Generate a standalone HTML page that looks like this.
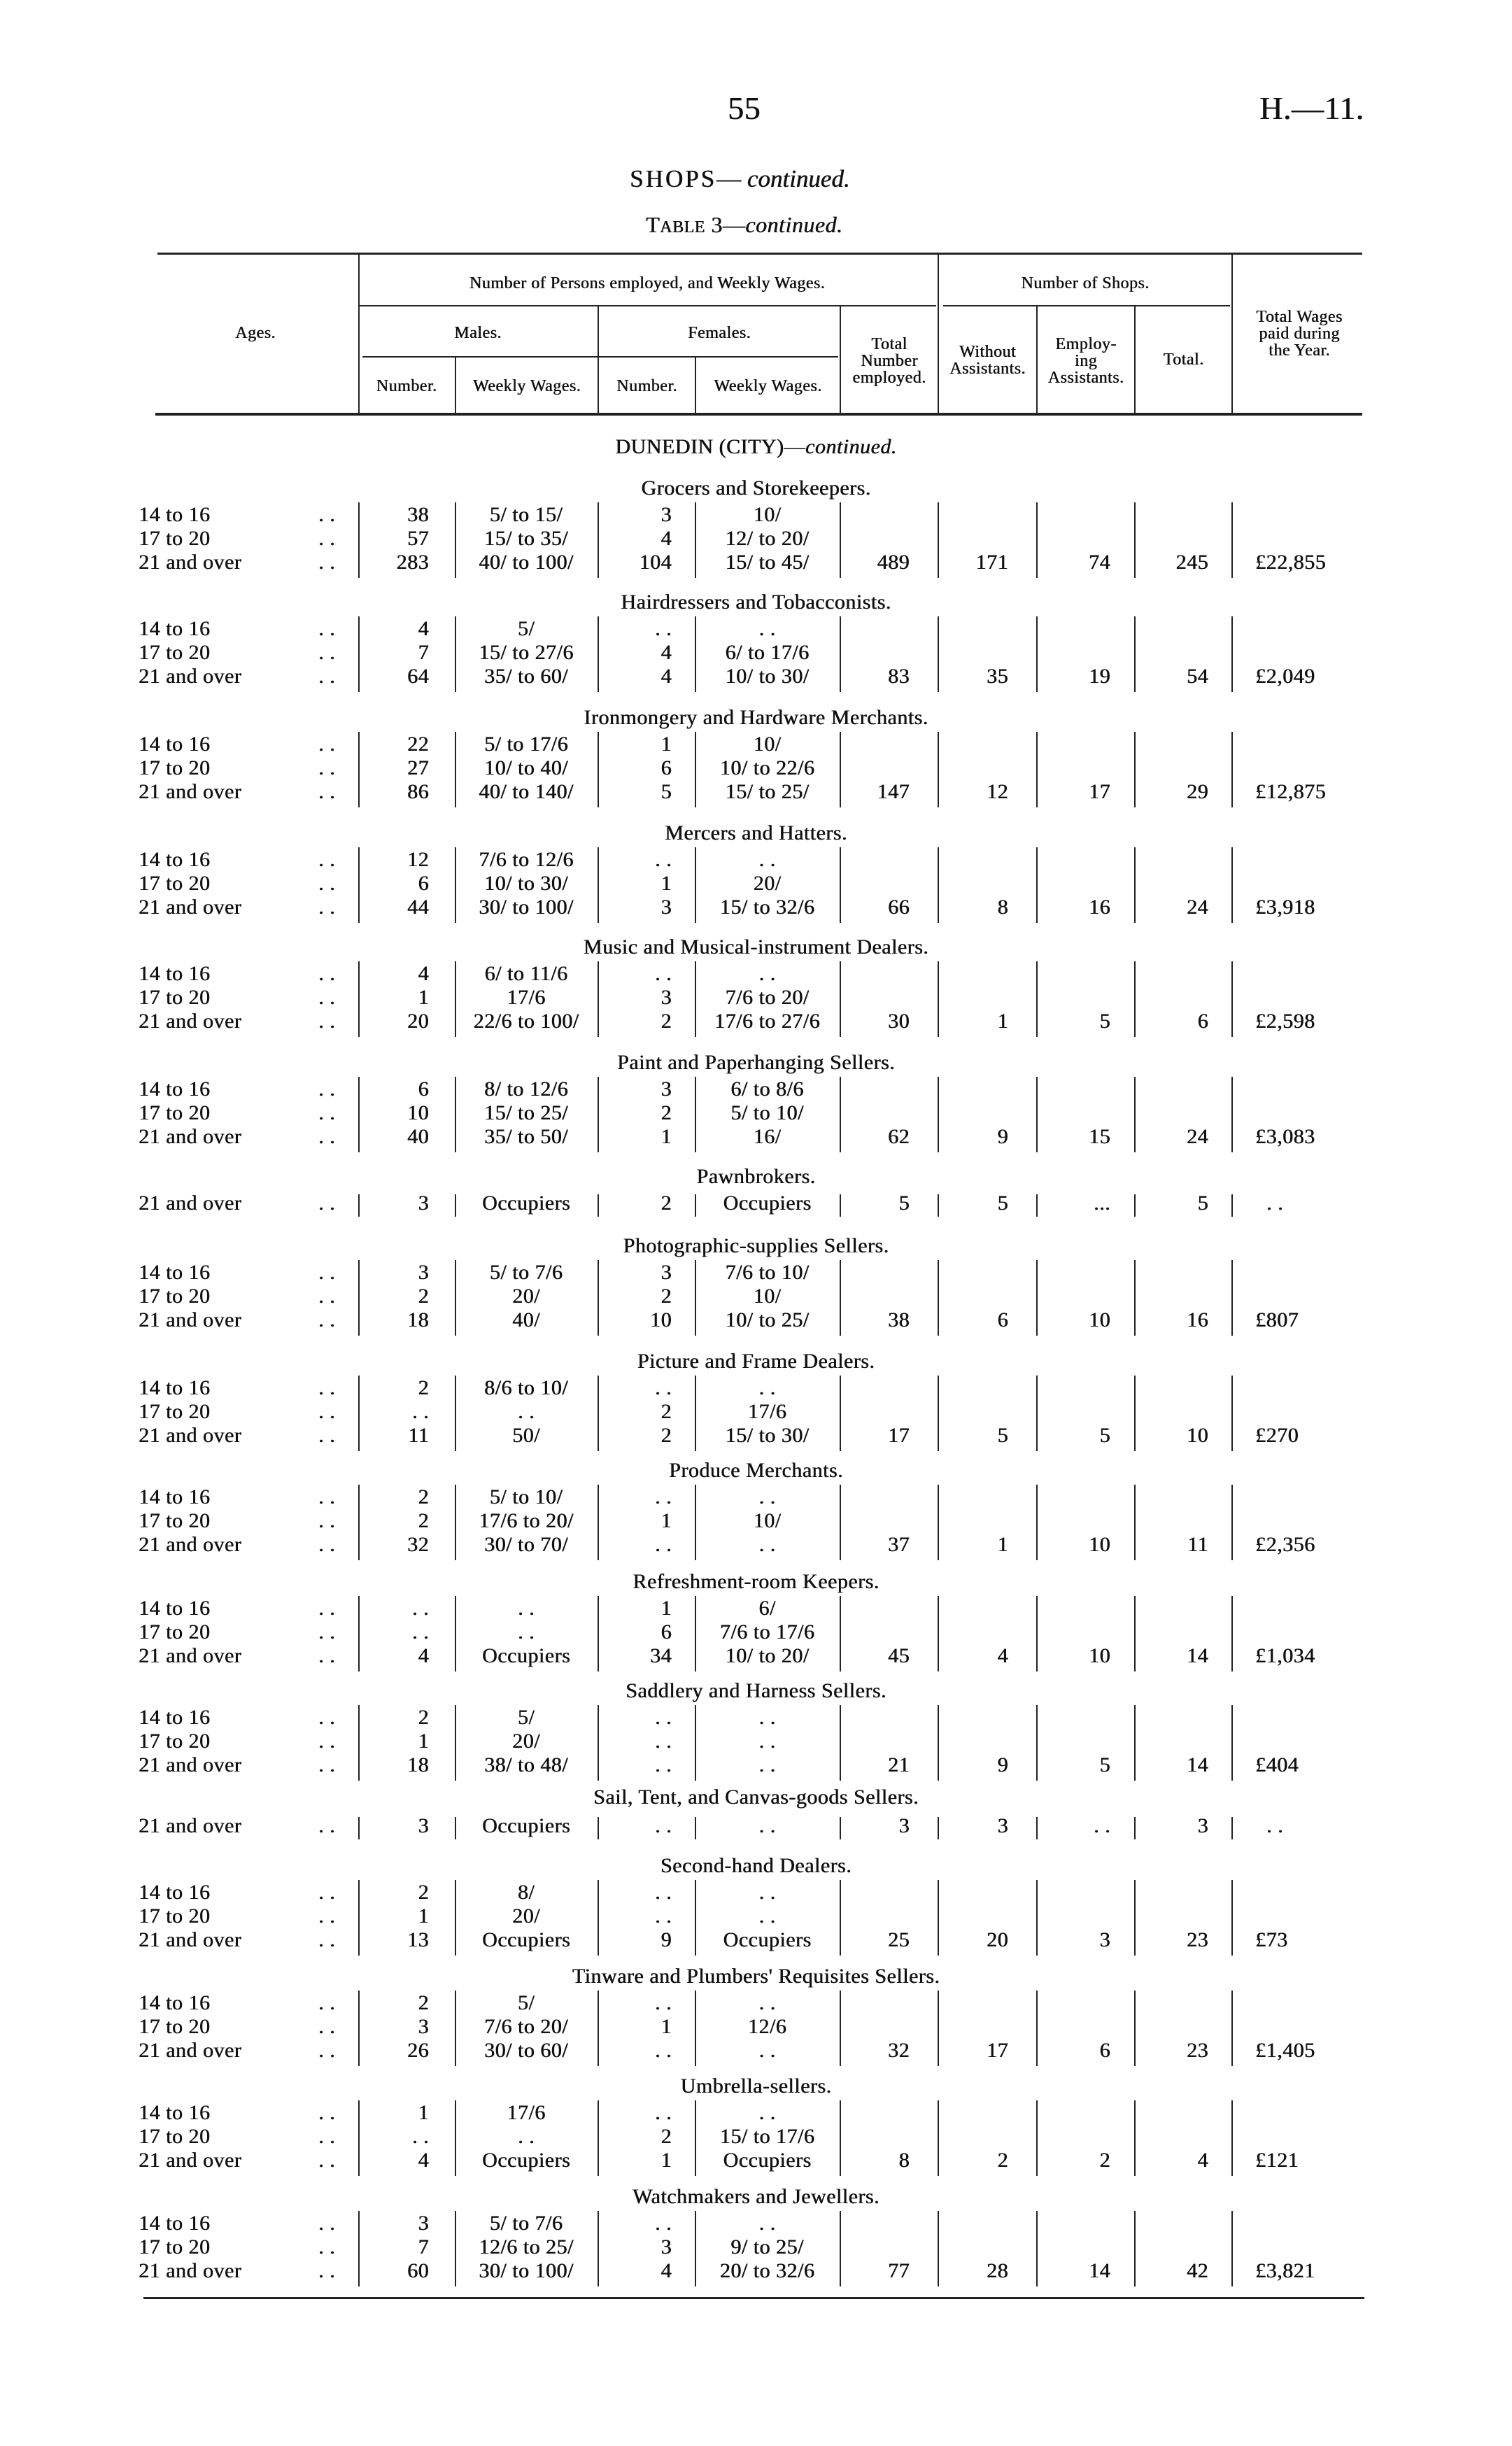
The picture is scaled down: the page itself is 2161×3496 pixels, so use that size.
<!DOCTYPE html>
<html><head><meta charset="utf-8"><style>
body{margin:0;background:#fff}
#p{position:relative;width:2161px;height:3496px;overflow:hidden;font-family:"Liberation Serif",serif;color:#111;font-size:30px;letter-spacing:0.5px;text-shadow:0.6px 0 0 #111}
.r{position:absolute;left:0;width:2161px;height:34px;line-height:34px}
.r span{position:absolute;top:0;white-space:nowrap}
.a{left:198px}.d{left:455px}.mn{right:1548px}.mw{left:652px;width:200px;text-align:center}.fn{right:1201px}.fw{left:995px;width:203px;text-align:center}.t{right:861px}.wo{right:720px}.em{right:574px}.ts{right:434px}.tw{left:1794px}
.h{position:absolute;left:0;width:2161px;text-align:center;height:36px;line-height:36px}
.v{position:absolute;left:0;width:2161px;background-image:linear-gradient(#222,#222),linear-gradient(#222,#222),linear-gradient(#222,#222),linear-gradient(#222,#222),linear-gradient(#222,#222),linear-gradient(#222,#222),linear-gradient(#222,#222),linear-gradient(#222,#222),linear-gradient(#222,#222);background-repeat:no-repeat;background-size:2px 100%;background-position:512px 0,650px 0,854px 0,993px 0,1200px 0,1340px 0,1481px 0,1621px 0,1760px 0}
.ln{position:absolute;background:#222}
.x{position:absolute;text-align:center;font-size:24px;line-height:24px;white-space:nowrap}
</style></head><body><div id="p">
<div style="position:absolute;left:1040px;top:128px;font-size:46px">55</div>
<div style="position:absolute;left:1800px;top:128px;font-size:46px">H.—11.</div>
<div style="position:absolute;left:900px;top:236px;font-size:35px;letter-spacing:3px">SHOPS<span style="letter-spacing:0">— <i>continued.</i></span></div>
<div style="position:absolute;left:923px;top:303px;font-size:32px">T<span style="font-size:24px">ABLE</span> 3—<i>continued.</i></div>

<div class="ln" style="left:225px;top:361px;width:1722px;height:3px"></div>
<div class="ln" style="left:222px;top:590px;width:1725px;height:4px"></div>
<div class="ln" style="left:512px;top:362px;width:2px;height:230px"></div>
<div class="ln" style="left:1340px;top:362px;width:2px;height:230px"></div>
<div class="ln" style="left:1760px;top:362px;width:2px;height:230px"></div>
<div class="ln" style="left:512px;top:436px;width:826px;height:2px"></div>
<div class="ln" style="left:1348px;top:436px;width:410px;height:2px"></div>
<div class="ln" style="left:518px;top:509px;width:680px;height:2px"></div>
<div class="ln" style="left:1200px;top:437px;width:2px;height:155px"></div>
<div class="ln" style="left:854px;top:437px;width:2px;height:155px"></div>
<div class="ln" style="left:1481px;top:437px;width:2px;height:155px"></div>
<div class="ln" style="left:1621px;top:437px;width:2px;height:155px"></div>
<div class="ln" style="left:650px;top:510px;width:2px;height:82px"></div>
<div class="ln" style="left:993px;top:510px;width:2px;height:82px"></div>
<div class="x" style="left:300px;width:130px;top:464px">Ages.</div>
<div class="x" style="left:512px;width:826px;top:393px">Number of Persons employed, and Weekly Wages.</div>
<div class="x" style="left:1342px;width:418px;top:393px">Number of Shops.</div>
<div class="x" style="left:512px;width:342px;top:464px">Males.</div>
<div class="x" style="left:856px;width:344px;top:464px">Females.</div>
<div class="x" style="left:512px;width:138px;top:540px">Number.</div>
<div class="x" style="left:652px;width:202px;top:540px">Weekly Wages.</div>
<div class="x" style="left:856px;width:137px;top:540px">Number.</div>
<div class="x" style="left:995px;width:205px;top:540px">Weekly Wages.</div>
<div class="x" style="left:1202px;width:138px;top:480px">Total<br>Number<br>employed.</div>
<div class="x" style="left:1342px;width:139px;top:491px">Without<br>Assistants.</div>
<div class="x" style="left:1483px;width:138px;top:480px">Employ-<br>ing<br>Assistants.</div>
<div class="x" style="left:1623px;width:137px;top:502px">Total.</div>
<div class="x" style="left:1762px;width:190px;top:441px">Total Wages<br>paid during<br>the Year.</div>

<div class="h" style="top:621px">DUNEDIN (CITY)—<i>continued.</i></div>

<div class="h" style="top:680px">Grocers and Storekeepers.</div>
<div class="v" style="top:718px;height:108px"></div>
<div class="r" style="top:719px"><span class="a">14 to 16</span><span class="d">. .</span><span class="mn">38</span><span class="mw">5/ to 15/</span><span class="fn">3</span><span class="fw">10/</span></div>
<div class="r" style="top:753px"><span class="a">17 to 20</span><span class="d">. .</span><span class="mn">57</span><span class="mw">15/ to 35/</span><span class="fn">4</span><span class="fw">12/ to 20/</span></div>
<div class="r" style="top:787px"><span class="a">21 and over</span><span class="d">. .</span><span class="mn">283</span><span class="mw">40/ to 100/</span><span class="fn">104</span><span class="fw">15/ to 45/</span><span class="t">489</span><span class="wo">171</span><span class="em">74</span><span class="ts">245</span><span class="tw">£22,855</span></div>

<div class="h" style="top:843px">Hairdressers and Tobacconists.</div>
<div class="v" style="top:881px;height:108px"></div>
<div class="r" style="top:882px"><span class="a">14 to 16</span><span class="d">. .</span><span class="mn">4</span><span class="mw">5/</span><span class="fn">. .</span><span class="fw">. .</span></div>
<div class="r" style="top:916px"><span class="a">17 to 20</span><span class="d">. .</span><span class="mn">7</span><span class="mw">15/ to 27/6</span><span class="fn">4</span><span class="fw">6/ to 17/6</span></div>
<div class="r" style="top:950px"><span class="a">21 and over</span><span class="d">. .</span><span class="mn">64</span><span class="mw">35/ to 60/</span><span class="fn">4</span><span class="fw">10/ to 30/</span><span class="t">83</span><span class="wo">35</span><span class="em">19</span><span class="ts">54</span><span class="tw">£2,049</span></div>

<div class="h" style="top:1008px">Ironmongery and Hardware Merchants.</div>
<div class="v" style="top:1046px;height:108px"></div>
<div class="r" style="top:1047px"><span class="a">14 to 16</span><span class="d">. .</span><span class="mn">22</span><span class="mw">5/ to 17/6</span><span class="fn">1</span><span class="fw">10/</span></div>
<div class="r" style="top:1081px"><span class="a">17 to 20</span><span class="d">. .</span><span class="mn">27</span><span class="mw">10/ to 40/</span><span class="fn">6</span><span class="fw">10/ to 22/6</span></div>
<div class="r" style="top:1115px"><span class="a">21 and over</span><span class="d">. .</span><span class="mn">86</span><span class="mw">40/ to 140/</span><span class="fn">5</span><span class="fw">15/ to 25/</span><span class="t">147</span><span class="wo">12</span><span class="em">17</span><span class="ts">29</span><span class="tw">£12,875</span></div>

<div class="h" style="top:1173px">Mercers and Hatters.</div>
<div class="v" style="top:1211px;height:108px"></div>
<div class="r" style="top:1212px"><span class="a">14 to 16</span><span class="d">. .</span><span class="mn">12</span><span class="mw">7/6 to 12/6</span><span class="fn">. .</span><span class="fw">. .</span></div>
<div class="r" style="top:1246px"><span class="a">17 to 20</span><span class="d">. .</span><span class="mn">6</span><span class="mw">10/ to 30/</span><span class="fn">1</span><span class="fw">20/</span></div>
<div class="r" style="top:1280px"><span class="a">21 and over</span><span class="d">. .</span><span class="mn">44</span><span class="mw">30/ to 100/</span><span class="fn">3</span><span class="fw">15/ to 32/6</span><span class="t">66</span><span class="wo">8</span><span class="em">16</span><span class="ts">24</span><span class="tw">£3,918</span></div>

<div class="h" style="top:1336px">Music and Musical-instrument Dealers.</div>
<div class="v" style="top:1374px;height:108px"></div>
<div class="r" style="top:1375px"><span class="a">14 to 16</span><span class="d">. .</span><span class="mn">4</span><span class="mw">6/ to 11/6</span><span class="fn">. .</span><span class="fw">. .</span></div>
<div class="r" style="top:1409px"><span class="a">17 to 20</span><span class="d">. .</span><span class="mn">1</span><span class="mw">17/6</span><span class="fn">3</span><span class="fw">7/6 to 20/</span></div>
<div class="r" style="top:1443px"><span class="a">21 and over</span><span class="d">. .</span><span class="mn">20</span><span class="mw">22/6 to 100/</span><span class="fn">2</span><span class="fw">17/6 to 27/6</span><span class="t">30</span><span class="wo">1</span><span class="em">5</span><span class="ts">6</span><span class="tw">£2,598</span></div>

<div class="h" style="top:1501px">Paint and Paperhanging Sellers.</div>
<div class="v" style="top:1539px;height:108px"></div>
<div class="r" style="top:1540px"><span class="a">14 to 16</span><span class="d">. .</span><span class="mn">6</span><span class="mw">8/ to 12/6</span><span class="fn">3</span><span class="fw">6/ to 8/6</span></div>
<div class="r" style="top:1574px"><span class="a">17 to 20</span><span class="d">. .</span><span class="mn">10</span><span class="mw">15/ to 25/</span><span class="fn">2</span><span class="fw">5/ to 10/</span></div>
<div class="r" style="top:1608px"><span class="a">21 and over</span><span class="d">. .</span><span class="mn">40</span><span class="mw">35/ to 50/</span><span class="fn">1</span><span class="fw">16/</span><span class="t">62</span><span class="wo">9</span><span class="em">15</span><span class="ts">24</span><span class="tw">£3,083</span></div>

<div class="h" style="top:1664px">Pawnbrokers.</div>
<div class="v" style="top:1707px;height:32px"></div>
<div class="r" style="top:1703px"><span class="a">21 and over</span><span class="d">. .</span><span class="mn">3</span><span class="mw">Occupiers</span><span class="fn">2</span><span class="fw">Occupiers</span><span class="t">5</span><span class="wo">5</span><span class="em">...</span><span class="ts">5</span><span class="tw">&nbsp;&nbsp;. .</span></div>

<div class="h" style="top:1763px">Photographic-supplies Sellers.</div>
<div class="v" style="top:1801px;height:108px"></div>
<div class="r" style="top:1802px"><span class="a">14 to 16</span><span class="d">. .</span><span class="mn">3</span><span class="mw">5/ to 7/6</span><span class="fn">3</span><span class="fw">7/6 to 10/</span></div>
<div class="r" style="top:1836px"><span class="a">17 to 20</span><span class="d">. .</span><span class="mn">2</span><span class="mw">20/</span><span class="fn">2</span><span class="fw">10/</span></div>
<div class="r" style="top:1870px"><span class="a">21 and over</span><span class="d">. .</span><span class="mn">18</span><span class="mw">40/</span><span class="fn">10</span><span class="fw">10/ to 25/</span><span class="t">38</span><span class="wo">6</span><span class="em">10</span><span class="ts">16</span><span class="tw">£807</span></div>

<div class="h" style="top:1928px">Picture and Frame Dealers.</div>
<div class="v" style="top:1966px;height:108px"></div>
<div class="r" style="top:1967px"><span class="a">14 to 16</span><span class="d">. .</span><span class="mn">2</span><span class="mw">8/6 to 10/</span><span class="fn">. .</span><span class="fw">. .</span></div>
<div class="r" style="top:2001px"><span class="a">17 to 20</span><span class="d">. .</span><span class="mn">. .</span><span class="mw">. .</span><span class="fn">2</span><span class="fw">17/6</span></div>
<div class="r" style="top:2035px"><span class="a">21 and over</span><span class="d">. .</span><span class="mn">11</span><span class="mw">50/</span><span class="fn">2</span><span class="fw">15/ to 30/</span><span class="t">17</span><span class="wo">5</span><span class="em">5</span><span class="ts">10</span><span class="tw">£270</span></div>

<div class="h" style="top:2084px">Produce Merchants.</div>
<div class="v" style="top:2122px;height:108px"></div>
<div class="r" style="top:2123px"><span class="a">14 to 16</span><span class="d">. .</span><span class="mn">2</span><span class="mw">5/ to 10/</span><span class="fn">. .</span><span class="fw">. .</span></div>
<div class="r" style="top:2157px"><span class="a">17 to 20</span><span class="d">. .</span><span class="mn">2</span><span class="mw">17/6 to 20/</span><span class="fn">1</span><span class="fw">10/</span></div>
<div class="r" style="top:2191px"><span class="a">21 and over</span><span class="d">. .</span><span class="mn">32</span><span class="mw">30/ to 70/</span><span class="fn">. .</span><span class="fw">. .</span><span class="t">37</span><span class="wo">1</span><span class="em">10</span><span class="ts">11</span><span class="tw">£2,356</span></div>

<div class="h" style="top:2243px">Refreshment-room Keepers.</div>
<div class="v" style="top:2281px;height:108px"></div>
<div class="r" style="top:2282px"><span class="a">14 to 16</span><span class="d">. .</span><span class="mn">. .</span><span class="mw">. .</span><span class="fn">1</span><span class="fw">6/</span></div>
<div class="r" style="top:2316px"><span class="a">17 to 20</span><span class="d">. .</span><span class="mn">. .</span><span class="mw">. .</span><span class="fn">6</span><span class="fw">7/6 to 17/6</span></div>
<div class="r" style="top:2350px"><span class="a">21 and over</span><span class="d">. .</span><span class="mn">4</span><span class="mw">Occupiers</span><span class="fn">34</span><span class="fw">10/ to 20/</span><span class="t">45</span><span class="wo">4</span><span class="em">10</span><span class="ts">14</span><span class="tw">£1,034</span></div>

<div class="h" style="top:2399px">Saddlery and Harness Sellers.</div>
<div class="v" style="top:2437px;height:108px"></div>
<div class="r" style="top:2438px"><span class="a">14 to 16</span><span class="d">. .</span><span class="mn">2</span><span class="mw">5/</span><span class="fn">. .</span><span class="fw">. .</span></div>
<div class="r" style="top:2472px"><span class="a">17 to 20</span><span class="d">. .</span><span class="mn">1</span><span class="mw">20/</span><span class="fn">. .</span><span class="fw">. .</span></div>
<div class="r" style="top:2506px"><span class="a">21 and over</span><span class="d">. .</span><span class="mn">18</span><span class="mw">38/ to 48/</span><span class="fn">. .</span><span class="fw">. .</span><span class="t">21</span><span class="wo">9</span><span class="em">5</span><span class="ts">14</span><span class="tw">£404</span></div>

<div class="h" style="top:2551px">Sail, Tent, and Canvas-goods Sellers.</div>
<div class="v" style="top:2597px;height:32px"></div>
<div class="r" style="top:2593px"><span class="a">21 and over</span><span class="d">. .</span><span class="mn">3</span><span class="mw">Occupiers</span><span class="fn">. .</span><span class="fw">. .</span><span class="t">3</span><span class="wo">3</span><span class="em">. .</span><span class="ts">3</span><span class="tw">&nbsp;&nbsp;. .</span></div>

<div class="h" style="top:2649px">Second-hand Dealers.</div>
<div class="v" style="top:2687px;height:108px"></div>
<div class="r" style="top:2688px"><span class="a">14 to 16</span><span class="d">. .</span><span class="mn">2</span><span class="mw">8/</span><span class="fn">. .</span><span class="fw">. .</span></div>
<div class="r" style="top:2722px"><span class="a">17 to 20</span><span class="d">. .</span><span class="mn">1</span><span class="mw">20/</span><span class="fn">. .</span><span class="fw">. .</span></div>
<div class="r" style="top:2756px"><span class="a">21 and over</span><span class="d">. .</span><span class="mn">13</span><span class="mw">Occupiers</span><span class="fn">9</span><span class="fw">Occupiers</span><span class="t">25</span><span class="wo">20</span><span class="em">3</span><span class="ts">23</span><span class="tw">£73</span></div>

<div class="h" style="top:2807px">Tinware and Plumbers' Requisites Sellers.</div>
<div class="v" style="top:2845px;height:108px"></div>
<div class="r" style="top:2846px"><span class="a">14 to 16</span><span class="d">. .</span><span class="mn">2</span><span class="mw">5/</span><span class="fn">. .</span><span class="fw">. .</span></div>
<div class="r" style="top:2880px"><span class="a">17 to 20</span><span class="d">. .</span><span class="mn">3</span><span class="mw">7/6 to 20/</span><span class="fn">1</span><span class="fw">12/6</span></div>
<div class="r" style="top:2914px"><span class="a">21 and over</span><span class="d">. .</span><span class="mn">26</span><span class="mw">30/ to 60/</span><span class="fn">. .</span><span class="fw">. .</span><span class="t">32</span><span class="wo">17</span><span class="em">6</span><span class="ts">23</span><span class="tw">£1,405</span></div>

<div class="h" style="top:2964px">Umbrella-sellers.</div>
<div class="v" style="top:3002px;height:108px"></div>
<div class="r" style="top:3003px"><span class="a">14 to 16</span><span class="d">. .</span><span class="mn">1</span><span class="mw">17/6</span><span class="fn">. .</span><span class="fw">. .</span></div>
<div class="r" style="top:3037px"><span class="a">17 to 20</span><span class="d">. .</span><span class="mn">. .</span><span class="mw">. .</span><span class="fn">2</span><span class="fw">15/ to 17/6</span></div>
<div class="r" style="top:3071px"><span class="a">21 and over</span><span class="d">. .</span><span class="mn">4</span><span class="mw">Occupiers</span><span class="fn">1</span><span class="fw">Occupiers</span><span class="t">8</span><span class="wo">2</span><span class="em">2</span><span class="ts">4</span><span class="tw">£121</span></div>

<div class="h" style="top:3122px">Watchmakers and Jewellers.</div>
<div class="v" style="top:3160px;height:108px"></div>
<div class="r" style="top:3161px"><span class="a">14 to 16</span><span class="d">. .</span><span class="mn">3</span><span class="mw">5/ to 7/6</span><span class="fn">. .</span><span class="fw">. .</span></div>
<div class="r" style="top:3195px"><span class="a">17 to 20</span><span class="d">. .</span><span class="mn">7</span><span class="mw">12/6 to 25/</span><span class="fn">3</span><span class="fw">9/ to 25/</span></div>
<div class="r" style="top:3229px"><span class="a">21 and over</span><span class="d">. .</span><span class="mn">60</span><span class="mw">30/ to 100/</span><span class="fn">4</span><span class="fw">20/ to 32/6</span><span class="t">77</span><span class="wo">28</span><span class="em">14</span><span class="ts">42</span><span class="tw">£3,821</span></div>

<div class="ln" style="left:205px;top:3283px;width:1745px;height:3px"></div>
</div></body></html>
